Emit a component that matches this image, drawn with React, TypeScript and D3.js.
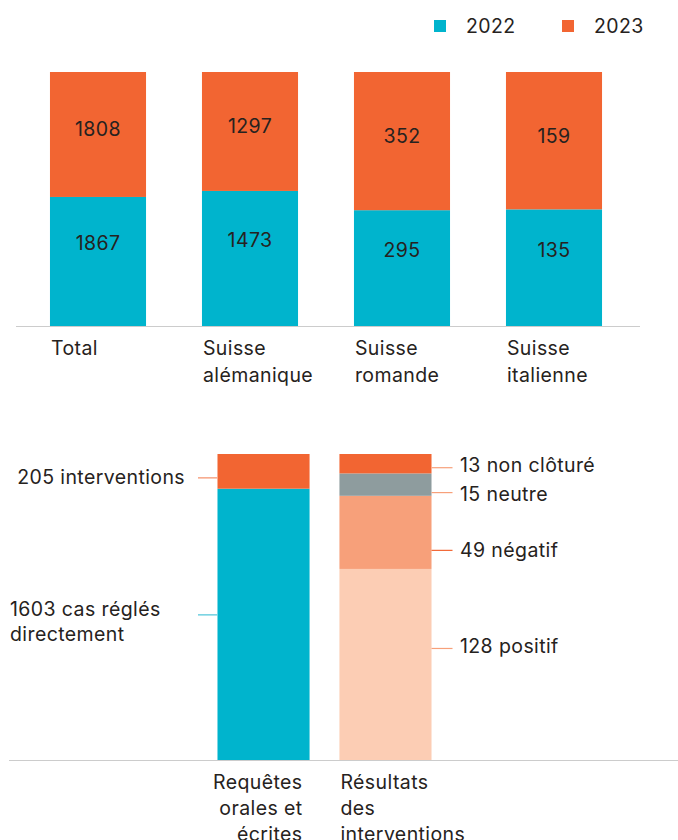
import React from "react";
import * as d3 from "d3";

// Regional breakdown of requests, 2022 vs 2023
const regions = ["Total", "Suisse alémanique", "Suisse romande", "Suisse italienne"];
const regionLines = [["Total"], ["Suisse", "alémanique"], ["Suisse", "romande"], ["Suisse", "italienne"]];
const values2022 = [1867, 1473, 295, 135];
const values2023 = [1808, 1297, 352, 159];
const years = ["2022", "2023"];

// 2023 requests and the outcome of interventions
const requestParts = ["cas réglés directement", "interventions"];
const requestValues = [1603, 205];
const requestLabels = [["1603 cas réglés", "directement"], ["205 interventions"]];
const outcomeParts = ["positif", "négatif", "neutre", "non clôturé"];
const outcomeValues = [128, 49, 15, 13];
const outcomeLabels = ["128 positif", "49 négatif", "15 neutre", "13 non clôturé"];
const bottomCategories = [["Requêtes", "orales et", "écrites"], ["Résultats", "des", "interventions"]];

const TEAL = "#00b4cd";
const ORANGE = "#f26532";
const GRAY = "#8e9c9e";
const SALMON = "#f7a07a";
const PEACH = "#fccdb4";
const TEXT = "#262220";
const FONT = "Inter, 'Open Sans', sans-serif";
const FS = 19.5;
const LS = 0.4;

const W = 678;
const H = 840;

export default function App() {
  // ---- Top chart: 100% stacked bars ----
  const topX = d3.scaleBand<string>().domain(regions).range([22, 630]).paddingInner(0.368).paddingOuter(0.184);
  const topY = d3.scaleLinear().domain([0, 1]).range([326, 72]);
  const rows = regions.map((r, i) => ({ region: r, "2022": values2022[i], "2023": values2023[i] }));
  const topStack = d3.stack<any>().keys(years).offset(d3.stackOffsetExpand)(rows);
  const yearColor = d3.scaleOrdinal<string, string>().domain(years).range([TEAL, ORANGE]);
  const labelShift: Record<string, number> = { "2022": -18, "2023": -5 };

  // ---- Bottom chart: two normalized bars ----
  const botX = d3.scaleBand<number>().domain([0, 1]).range([187, 462]).paddingInner(0.245).paddingOuter(0.25);
  const botY = d3.scaleLinear().domain([0, 1]).range([760, 454]);
  const reqTotal = d3.sum(requestValues);
  const outTotal = d3.sum(outcomeValues);
  let acc = 0;
  const reqSegs = requestValues.map((v, i) => {
    const y0 = acc / reqTotal;
    acc += v;
    return { key: requestParts[i], y0, y1: acc / reqTotal, color: i === 0 ? TEAL : ORANGE, label: requestLabels[i] };
  });
  acc = 0;
  const outColors = [PEACH, SALMON, GRAY, ORANGE];
  const outSegs = outcomeValues.map((v, i) => {
    const y0 = acc / outTotal;
    acc += v;
    return { key: outcomeParts[i], y0, y1: acc / outTotal, color: outColors[i], label: outcomeLabels[i] };
  });
  const b0 = botX(0)!;
  const b1 = botX(1)!;
  const bw = botX.bandwidth();

  return (
    <svg width={W} height={H} style={{ position: "absolute", left: 0, top: 0 }} fontFamily={FONT} letterSpacing={LS}>
      {/* Legend */}
      {years.map((y, i) => (
        <g key={y} transform={`translate(${434 + i * 128},20)`}>
          <rect width={12} height={12} fill={yearColor(y)} />
          <text x={32} y={6} dy="0.35em" fontSize={FS} fill={TEXT}>{y}</text>
        </g>
      ))}

      {/* Top stacked bars */}
      {topStack.map((layer) => (
        <g key={layer.key} fill={yearColor(layer.key)}>
          {layer.map((d, i) => (
            <rect key={i} x={topX(regions[i])} y={topY(d[1])} width={topX.bandwidth()} height={topY(d[0]) - topY(d[1])} />
          ))}
        </g>
      ))}
      {topStack.map((layer) =>
        layer.map((d, i) => (
          <text
            key={layer.key + i}
            x={topX(regions[i])! + topX.bandwidth() / 2}
            y={(topY(d[0]) + topY(d[1])) / 2 + labelShift[layer.key]}
            dy="0.35em"
            textAnchor="middle"
            fontSize={FS}
            fill={TEXT}
          >
            {(d.data as any)[layer.key]}
          </text>
        ))
      )}
      <line x1={16} x2={640} y1={326.5} y2={326.5} stroke="#cccccc" strokeWidth={1} />
      {regionLines.map((lines, i) => (
        <text key={i} fontSize={FS} fill={TEXT}>
          {lines.map((l, j) => (
            <tspan key={j} x={topX(regions[i])! + 1} y={348 + j * 27} dy="0.35em">{l}</tspan>
          ))}
        </text>
      ))}

      {/* Bottom bars */}
      {reqSegs.map((s) => (
        <rect key={s.key} x={b0} y={botY(s.y1)} width={bw} height={botY(s.y0) - botY(s.y1)} fill={s.color} />
      ))}
      {outSegs.map((s) => (
        <rect key={s.key} x={b1} y={botY(s.y1)} width={bw} height={botY(s.y0) - botY(s.y1)} fill={s.color} />
      ))}
      <line x1={9} x2={678} y1={760.5} y2={760.5} stroke="#cccccc" strokeWidth={1} />

      {/* Left annotations */}
      {reqSegs.map((s, i) => {
        const mid = (botY(s.y0) + botY(s.y1)) / 2;
        const lineY = i === 0 ? mid - 9.5 : mid + 6.5;
        const textY = i === 0 ? mid - 15.5 : mid + 5.5;
        return (
          <g key={s.key}>
            <line x1={198} x2={b0} y1={lineY} y2={lineY} stroke={i === 0 ? "#6fd0e0" : "#f7a585"} strokeWidth={1.5} />
            <text fontSize={FS} fill={TEXT} textAnchor={i === 0 ? "start" : "end"}>
              {s.label.map((l, j) => (
                <tspan key={j} x={i === 0 ? 10 : 185} y={textY + j * 25} dy="0.35em">{l}</tspan>
              ))}
            </text>
          </g>
        );
      })}

      {/* Right annotations */}
      {outSegs.map((s, i) => {
        const mid = (botY(s.y0) + botY(s.y1)) / 2;
        const shift = [-18, 18, 10, 1][i];
        const lineY = mid + shift + [2, 0, -2, 3][i];
        const textY = mid + shift;
        return (
          <g key={s.key}>
            <line x1={b1 + bw} x2={b1 + bw + 21} y1={lineY} y2={lineY} stroke={i === 1 ? ORANGE : SALMON} strokeWidth={1.2} />
            <text x={460} y={textY} dy="0.35em" fontSize={FS} fill={TEXT}>{s.label}</text>
          </g>
        );
      })}

      {/* Bottom category labels */}
      <text fontSize={FS} fill={TEXT} textAnchor="end">
        {bottomCategories[0].map((l, j) => (
          <tspan key={j} x={b0 + bw - 7} y={782 + j * 26} dy="0.35em">{l}</tspan>
        ))}
      </text>
      <text fontSize={FS} fill={TEXT}>
        {bottomCategories[1].map((l, j) => (
          <tspan key={j} x={b1 + 1} y={782 + j * 26} dy="0.35em">{l}</tspan>
        ))}
      </text>
    </svg>
  );
}
